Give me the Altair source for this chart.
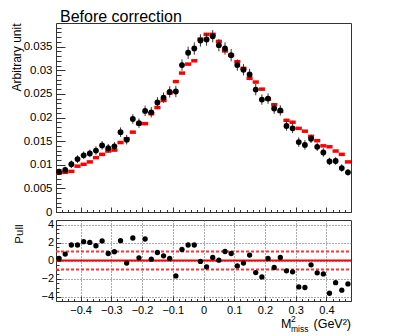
import altair as alt
import pandas as pd

FONT = "Liberation Sans"

# ---- data ----
bin_centers = [round(-0.47 + 0.02 * i, 2) for i in range(48)]

data_vals = [0.0085, 0.0089, 0.0101, 0.0112, 0.0120, 0.0124, 0.0130, 0.0141,
             0.0135, 0.0139, 0.0169, 0.0153, 0.0197, 0.0188, 0.0214, 0.0211,
             0.0232, 0.0242, 0.0254, 0.0255, 0.0311, 0.0337, 0.0346, 0.0363,
             0.0365, 0.0372, 0.0353, 0.0346, 0.0332, 0.0311, 0.0301, 0.0291,
             0.0259, 0.0238, 0.0240, 0.0219, 0.0215, 0.0182, 0.0177, 0.0148,
             0.0142, 0.0155, 0.0138, 0.0126, 0.0107, 0.0108, 0.0093, 0.0084]

data_errs = [0.0007, 0.0007, 0.0008, 0.0008, 0.0008, 0.0008, 0.0009, 0.0009,
             0.0009, 0.0009, 0.0010, 0.0010, 0.0010, 0.0010, 0.0011, 0.0011,
             0.0011, 0.0011, 0.0012, 0.0012, 0.0012, 0.0013, 0.0013, 0.0013,
             0.0013, 0.0013, 0.0013, 0.0013, 0.0013, 0.0012, 0.0012, 0.0012,
             0.0012, 0.0011, 0.0011, 0.0011, 0.0011, 0.0010, 0.0010, 0.0010,
             0.0010, 0.0009, 0.0009, 0.0009, 0.0008, 0.0008, 0.0008, 0.0007]

mc_vals = [0.0083, 0.0084, 0.0086, 0.0097, 0.0101, 0.0106, 0.0115, 0.0122,
           0.0129, 0.0131, 0.0147, 0.0155, 0.0169, 0.0187, 0.0187, 0.0208,
           0.0221, 0.0236, 0.0252, 0.0276, 0.0294, 0.0313, 0.0320, 0.0366,
           0.0376, 0.0376, 0.0361, 0.0341, 0.0332, 0.0318, 0.0304, 0.0283,
           0.0275, 0.0260, 0.0239, 0.0227, 0.0213, 0.0194, 0.0190, 0.0177,
           0.0171, 0.0160, 0.0151, 0.0140, 0.0138, 0.0129, 0.0122, 0.0106]

pull_vals = [0.22, 0.71, 1.72, 1.72, 2.09, 2.01, 1.64, 2.17,
             0.78, 0.97, 2.20, -0.29, 2.50, 0.30, 2.39, 0.15,
             0.89, 0.52, 0.22, -1.71, 1.23, 1.72, 1.72, -0.10,
             -0.70, 0.34, 0.04, 1.00, 0.78, -0.60, -0.29, 0.60,
             -1.34, -1.82, 0.22, -0.78, 0.34, -1.15, -1.26, -2.94,
             -3.00, -0.48, -1.37, -1.49, -3.64, -2.46, -3.30, -2.60]

y_major = [0, 0.005, 0.01, 0.015, 0.02, 0.025, 0.03, 0.035]
y_minor = [round(0.001 * i, 3) for i in range(40)]
x_major = [-0.4, -0.3, -0.2, -0.1, 0, 0.1, 0.2, 0.3, 0.4]
x_minor = [round(-0.48 + 0.02 * i, 2) for i in range(49)]
pull_major = [-4, -2, 0, 2, 4]
pull_minor = [-4.5 + 0.5 * i for i in range(19)]
ref_solid = [0]
ref_dashed = [-1, 1]

title_text = ["Before correction"]
xtitle_main = ["M"]
xtitle_sup = ["2"]
xtitle_sub = ["miss"]
xtitle_unit = ["(GeV²)"]

# ---- tables ----
df = pd.DataFrame({"x": bin_centers, "data": data_vals, "err": data_errs,
                   "mc": mc_vals, "pull": pull_vals})
df["lo"] = df["x"] - 0.01
df["hi"] = df["x"] + 0.01
df["ylo"] = df["data"] - df["err"]
df["yhi"] = df["data"] + df["err"]

solid_df = pd.DataFrame({"level": ref_solid, "x0": -0.48, "x1": 0.48})
dash_df = pd.DataFrame({"level": ref_dashed, "x0": -0.48, "x1": 0.48})

W, H1, H2 = 295, 189, 81
xs = alt.Scale(domain=[-0.48, 0.48], nice=False, zero=False)
ys = alt.Scale(domain=[0, 0.04], nice=False, zero=False)
ps = alt.Scale(domain=[-4.5, 4.5], nice=False, zero=False)
TICK = "#333333"


def tick_axis(orient, values, size):
    return alt.Axis(orient=orient, values=values, tickSize=size, offset=-size,
                    domain=False, labels=False, title=None, grid=False,
                    tickColor=TICK, tickWidth=1)


def grid_axis(orient, values):
    return alt.Axis(orient=orient, values=values, ticks=False, labels=False,
                    domain=False, title=None, grid=True, gridDash=[1, 2],
                    gridColor="#555555", gridWidth=1)


# ---- top panel ----
top_y_axis = alt.Axis(orient="left", values=y_major, tickSize=9, offset=-9,
                      domain=False, labels=True, labelPadding=4, format="~g",
                      labelFontSize=11.5, labelOverlap=False, tickColor=TICK,
                      grid=False, title="Arbitrary unit", titleFontSize=12,
                      titleFontWeight="normal", titleAngle=270,
                      titleAlign="right", titleBaseline="middle",
                      titleX=-49, titleY=0)

mc_layer = alt.Chart(df).mark_rule(color="#ff0000", strokeWidth=3.5).encode(
    x=alt.X("lo:Q", scale=xs, axis=tick_axis("bottom", x_major, 5)),
    x2="hi:Q",
    y=alt.Y("mc:Q", scale=ys, axis=top_y_axis),
)
err_layer = alt.Chart(df).mark_rule(color="#333333", strokeWidth=1).encode(
    x=alt.X("x:Q", scale=xs, axis=tick_axis("bottom", x_minor, 2.5)),
    y=alt.Y("ylo:Q", scale=ys, axis=tick_axis("left", y_minor, 5)),
    y2="yhi:Q",
)
pt_layer = alt.Chart(df).mark_point(filled=True, shape="circle", size=34,
                                    color="black", opacity=1).encode(
    x=alt.X("x:Q", scale=xs, axis=None),
    y=alt.Y("data:Q", scale=ys, axis=None),
)
title_layer = alt.Chart(pd.DataFrame({"t": title_text})).mark_text(
    align="left", baseline="alphabetic", fontSize=16, font=FONT, color="black"
).encode(x=alt.value(4), y=alt.value(-1), text="t:N")

top = alt.layer(mc_layer, err_layer, pt_layer, title_layer).resolve_axis(
    x="independent", y="independent").properties(width=W, height=H1)

# ---- pull panel ----
pull_x_axis = alt.Axis(orient="bottom", values=x_major, tickSize=5, offset=-5,
                       domain=False, labels=True, format="~g", labelPadding=3,
                       labelFontSize=11, labelFlush=False, labelOverlap=False,
                       tickColor=TICK, grid=False, title=None)
pull_y_axis = alt.Axis(orient="left", values=pull_major, tickSize=5, offset=-5,
                       domain=False, labels=True, format="~g", labelPadding=2.5,
                       labelFontSize=11, labelOverlap=False, tickColor=TICK,
                       grid=False, title="Pull", titleFontSize=11.5,
                       titleFontWeight="normal", titleAngle=270,
                       titleAlign="right", titleBaseline="middle",
                       titleX=-42, titleY=4)

grid_layer = alt.Chart(solid_df).mark_rule(opacity=0).encode(
    x=alt.X("x0:Q", scale=xs, axis=grid_axis("bottom", x_major)),
    y=alt.Y("level:Q", scale=ps, axis=grid_axis("left", pull_major)),
)
solid_layer = alt.Chart(solid_df).mark_rule(color="#ff0000", strokeWidth=2).encode(
    x=alt.X("x0:Q", scale=xs, axis=tick_axis("bottom", x_minor, 2.5)),
    x2="x1:Q",
    y=alt.Y("level:Q", scale=ps, axis=tick_axis("left", pull_minor, 3)),
)
dash_layer = alt.Chart(dash_df).mark_rule(color="#ff3333", strokeWidth=2,
                                          strokeDash=[3, 2]).encode(
    x=alt.X("x0:Q", scale=xs, axis=None),
    x2="x1:Q",
    y=alt.Y("level:Q", scale=ps, axis=None),
)
pull_layer = alt.Chart(df).mark_point(filled=True, shape="circle", size=28,
                                      color="black", opacity=1).encode(
    x=alt.X("x:Q", scale=xs, axis=pull_x_axis),
    y=alt.Y("pull:Q", scale=ps, axis=pull_y_axis),
)


def txt(values, size, px, py, align="left"):
    return alt.Chart(pd.DataFrame({"t": values})).mark_text(
        align=align, baseline="alphabetic", fontSize=size, font=FONT,
        color="black").encode(x=alt.value(px), y=alt.value(py), text="t:N")


xt_main = txt(xtitle_main, 12.5, 225, 108)
xt_sup = txt(xtitle_sup, 8.5, 235, 102)
xt_sub = txt(xtitle_sub, 8.5, 235, 112)
xt_unit = txt(xtitle_unit, 12.5, W, 108, align="right")

bottom = alt.layer(grid_layer, solid_layer, dash_layer, pull_layer,
                   xt_main, xt_sup, xt_sub, xt_unit).resolve_axis(
    x="independent", y="independent").properties(width=W, height=H2)

chart = alt.vconcat(top, bottom, spacing=0).properties(
    padding={"left": 1, "top": 0, "right": 5, "bottom": 4},
    background="white",
).configure_view(stroke="#333333", strokeWidth=1).configure_axis(
    labelFont=FONT, titleFont=FONT, labelColor="black", titleColor="black"
).configure_text(font=FONT)

chart.save("out.html", embed_options={"renderer": "svg", "actions": False})
